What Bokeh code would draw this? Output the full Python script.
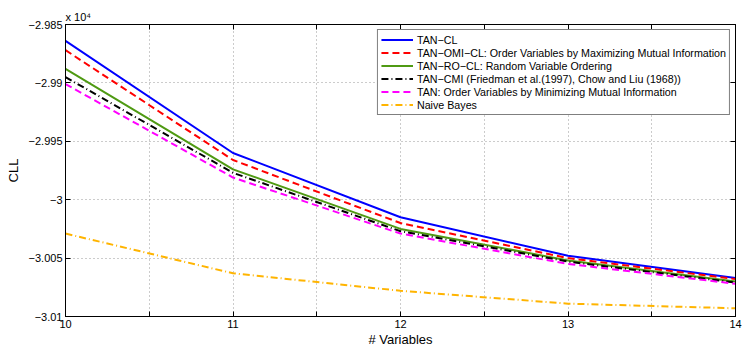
from bokeh.plotting import figure
from bokeh.models import (Range1d, FixedTicker, CustomJSTickFormatter, LinearAxis,
                          Title, Legend)
from bokeh.embed import file_html
from bokeh.resources import INLINE

# ---- data ----
n_vars = [10, 11, 12, 13, 14]
tan_cl = [-29864, -29960, -30015, -30048, -30067]
tan_omi_cl = [-29872, -29966, -30020, -30050, -30068]
tan_ro_cl = [-29888, -29974, -30025, -30052, -30070]
tan_cmi = [-29895, -29977, -30027, -30053, -30071]
tan_min = [-29901, -29981, -30029, -30055, -30072]
naive_bayes = [-30029, -30063, -30078, -30089, -30093]

x_ticks = [10, 10.5, 11, 11.5, 12, 12.5, 13, 13.5, 14]
y_ticks = [-30100, -30050, -30000, -29950, -29900, -29850]

series = [
    ("TAN\u2212CL", tan_cl, "#0000ff", "solid"),
    ("TAN\u2212OMI\u2212CL: Order Variables by Maximizing Mutual Information", tan_omi_cl, "#ff0000", "7 4"),
    ("TAN\u2212RO\u2212CL: Random Variable Ordering", tan_ro_cl, "#4f9a13", "solid"),
    ("TAN\u2212CMI (Friedman et al.(1997), Chow and Liu (1968))", tan_cmi, "#000000", "7 3 1 3"),
    ("TAN: Order Variables by Minimizing Mutual Information", tan_min, "#ff00ff", "7 4"),
    ("Naive Bayes", naive_bayes, "#ffb400", "7 3 1 3"),
]

FONT = "Liberation Sans"

p = figure(width=742, height=349, output_backend="svg", toolbar_location=None,
           x_range=Range1d(10, 14), y_range=Range1d(-30100, -29850),
           min_border_left=65, min_border_right=7, min_border_top=24, min_border_bottom=32)
p.background_fill_color = "white"
p.border_fill_color = "white"
p.outline_line_color = "black"
p.outline_line_width = 1

x_fmt = CustomJSTickFormatter(code="return Number.isInteger(tick) ? String(tick) : '';")
y_fmt = CustomJSTickFormatter(code="const v = parseFloat((tick/1e4).toFixed(4)); return String(v).replace('-', '\\u2212');")
empty_fmt = CustomJSTickFormatter(code="return '';")

p.xaxis.ticker = FixedTicker(ticks=x_ticks)
p.yaxis.ticker = FixedTicker(ticks=y_ticks)
p.xaxis.formatter = x_fmt
p.yaxis.formatter = y_fmt

for ax in [p.xaxis[0], p.yaxis[0]]:
    ax.major_tick_in = 5
    ax.major_tick_out = 0
    ax.minor_tick_line_color = None
    ax.axis_line_color = "black"
    ax.major_tick_line_color = "black"
    ax.major_label_text_font = FONT
    ax.major_label_text_font_size = "11px"
    ax.major_label_text_color = "black"
    ax.major_label_standoff = 3
    ax.axis_label_text_font = FONT
    ax.axis_label_text_font_size = "13px"
    ax.axis_label_text_font_style = "normal"
    ax.axis_label_text_color = "black"

p.xaxis.axis_label = "# Variables"
p.xaxis.axis_label_standoff = 1
p.yaxis.axis_label = "CLL"
p.yaxis.axis_label_standoff = 5

# top and right axes with inward ticks and no labels
top = LinearAxis(ticker=FixedTicker(ticks=x_ticks), formatter=empty_fmt)
right = LinearAxis(ticker=FixedTicker(ticks=y_ticks), formatter=empty_fmt)
for ax in [top, right]:
    ax.major_tick_in = 5
    ax.major_tick_out = 0
    ax.minor_tick_line_color = None
    ax.major_label_standoff = 0
    ax.major_label_text_font_size = "1px"
    ax.axis_line_color = "black"
p.add_layout(top, "above")
p.add_layout(right, "right")

exp_title = Title(text="x 10\u2074", align="left", text_font=FONT, text_font_size="11px",
                  text_font_style="normal", text_color="black", offset=0, standoff=4)
p.add_layout(exp_title, "above")

p.xgrid.ticker = FixedTicker(ticks=x_ticks)
p.ygrid.ticker = FixedTicker(ticks=y_ticks)
for g in [p.xgrid[0], p.ygrid[0]]:
    g.grid_line_color = "#999999"
    g.grid_line_dash = "1 3"
    g.grid_line_width = 1

items = []
for label, vals, color, dash in series:
    r = p.line(n_vars, vals, line_color=color, line_width=2, line_dash=dash)
    items.append((label, [r]))

legend = Legend(items=items, location="top_right")
legend.margin = 5
legend.padding = 3
legend.spacing = 0
legend.label_height = 13
legend.glyph_height = 13
legend.glyph_width = 32
legend.label_standoff = 4
legend.label_text_font = FONT
legend.label_text_font_size = "10.7px"
legend.label_text_color = "black"
legend.border_line_color = "black"
legend.border_line_width = 1
legend.background_fill_color = "white"
legend.background_fill_alpha = 1
p.add_layout(legend, "center")

open("out.html", "w").write(file_html(p, INLINE))
